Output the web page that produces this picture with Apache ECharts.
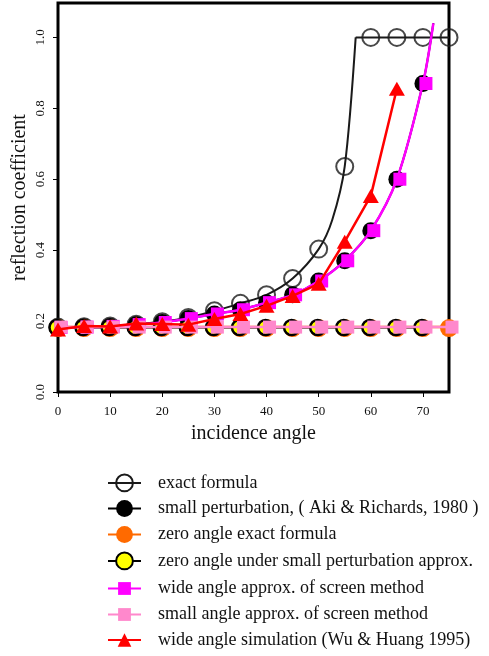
<!DOCTYPE html>
<html><head><meta charset="utf-8">
<script src="https://cdn.jsdelivr.net/npm/echarts@6/dist/echarts.min.js"></script>
<style>html,body{margin:0;padding:0;background:#fff}#c{width:489px;height:656px}</style>
</head><body><div id="c"></div>
<script>
// ---- data ----
const angles = [0,5,10,15,20,25,30,35,40,45,50,55,60,65,70,75];
const exactVals = [0.183,0.184,0.186,0.191,0.198,0.210,0.229,0.250,0.274,0.320,0.403,0.636,1.0,1.0,1.0,1.0];
// points, rising part and flat part (total reflection)
const exactRiseX = [0,5,10,15,20,25,30,35,40,45,50,52.6,55,57.1];
const exactRiseY = [0.183,0.184,0.186,0.191,0.198,0.210,0.229,0.250,0.274,0.320,0.403,0.485,0.636,1.0];
const exactFlatX = [57.1,60,65,70,75];
const exactFlatY = [1.0,1.0,1.0,1.0,1.0];
const smallPertVals = [0.182,0.183,0.185,0.190,0.196,0.207,0.220,0.232,0.252,0.274,0.313,0.370,0.455,0.600,0.870];
const curveEndX = 72, curveEndY = 1.04; // where the small-perturbation / screen curves leave the plot
const zeroExactVals = [0.183,0.183,0.183,0.183,0.183,0.183,0.183,0.183,0.183,0.183,0.183,0.183,0.183,0.183,0.183,0.183];
const zeroSmallVals = [0.182,0.182,0.182,0.182,0.182,0.182,0.182,0.182,0.182,0.182,0.182,0.182,0.182,0.182,0.182];
const wideScreenVals = [0.182,0.183,0.185,0.190,0.196,0.207,0.220,0.232,0.252,0.274,0.313,0.370,0.455,0.600,0.870];
const smallScreenVals = [0.183,0.183,0.183,0.183,0.183,0.183,0.183,0.183,0.183,0.183,0.183,0.183,0.183,0.183,0.183,0.183];
const wideSimVals = [0.176,0.186,0.185,0.193,0.192,0.190,0.206,0.220,0.243,0.271,0.305,0.424,0.553,0.855];
const xTicks = [0,10,20,30,40,50,60,70];
const yTicks = [0,0.2,0.4,0.6,0.8,1.0];
const names = [
  'exact formula',
  'small perturbation, ( Aki & Richards, 1980 )',
  'zero angle exact formula',
  'zero angle under small perturbation approx.',
  'wide angle approx. of screen method',
  'small angle approx. of screen method',
  'wide angle simulation (Wu & Huang 1995)'
];

const FONT = 'Liberation Serif';
const pair = (xs, ys) => ys.map((y, i) => [xs[i], y]);
const withEnd = (vals) => pair(angles, vals).concat([{value:[curveEndX, curveEndY], symbol:'none'}]);
// rising part and flat part as two segments of one line (null breaks the smoothing)
const exactCurveData = pair(exactRiseX, exactRiseY).concat([null], pair(exactFlatX, exactFlatY));

const series = [
  { name: names[0], type: 'line', data: exactCurveData, showSymbol: false, connectNulls: false,
    symbol: 'circle', symbolSize: 17, smooth: 0.3,
    itemStyle: {color: 'rgba(0,0,0,0)', borderColor: '#1a1a1a', borderWidth: 2},
    lineStyle: {color: '#1a1a1a', width: 2}, z: 2 },
  { name: names[0], type: 'scatter', data: pair(angles, exactVals), symbol: 'circle', symbolSize: 17,
    itemStyle: {color: 'rgba(0,0,0,0)', borderColor: '#1a1a1a', borderWidth: 2}, z: 2 },
  { name: names[1], type: 'line', data: withEnd(smallPertVals), symbol: 'circle', symbolSize: 17,
    smooth: 0.3, showAllSymbol: true,
    itemStyle: {color: '#000'}, lineStyle: {color: '#000', width: 2}, z: 3 },
  { name: names[2], type: 'line', data: pair(angles, zeroExactVals), symbol: 'circle', symbolSize: 18,
    symbolOffset: [0, 1], showAllSymbol: true,
    itemStyle: {color: '#ff6a00'}, lineStyle: {color: '#ff6a00', width: 2.5}, z: 4 },
  { name: names[3], type: 'line', data: pair(angles, zeroSmallVals), symbol: 'circle', symbolSize: 15,
    symbolOffset: [-1, 0], showAllSymbol: true,
    itemStyle: {color: '#ffff00', borderColor: '#000', borderWidth: 2.5}, lineStyle: {color: '#000', width: 2}, z: 5 },
  { name: names[4], type: 'line', data: withEnd(wideScreenVals), symbol: 'rect', symbolSize: 13,
    symbolOffset: [3, 0], smooth: 0.3, showAllSymbol: true,
    itemStyle: {color: '#ff00ff'}, lineStyle: {color: '#ff00ff', width: 2.5}, z: 6 },
  { name: names[5], type: 'line', data: pair(angles, smallScreenVals), symbol: 'rect', symbolSize: 13,
    symbolOffset: [3, 0], showAllSymbol: true,
    itemStyle: {color: '#ff88cc'}, lineStyle: {color: '#ff88cc', width: 2.5}, z: 7 },
  { name: names[6], type: 'line', data: pair(angles, wideSimVals), symbol: 'triangle', symbolSize: [16, 14],
    showAllSymbol: true,
    itemStyle: {color: '#ff0000'}, lineStyle: {color: '#ff0000', width: 2.5}, z: 8 }
];
series.forEach(s => { s.animation = false; s.emphasis = {disabled: true}; s.clip = false; });

const rowCenters = [484, 510, 536, 562, 587.5, 613.5, 639.5];
const legendH = [21, 21, 21, 21, 16, 16, 17];
const legends = names.map((n, i) => ({
  data: [n], orient: 'vertical', left: 107, top: rowCenters[i] - legendH[i] / 2,
  itemWidth: 33, itemHeight: legendH[i], selectedMode: false, padding: 0,
  textStyle: {fontFamily: FONT, fontSize: 18, color: '#111', padding: [0, 0, 0, 12]}
}));

const chart = echarts.init(document.getElementById('c'), null, {renderer: 'canvas'});
chart.setOption({
  animation: false,
  backgroundColor: '#fff',
  grid: {left: 58, top: 3, right: 40, bottom: 264, show: true, borderColor: '#000', borderWidth: 3, backgroundColor: 'transparent'},
  legend: legends,
  xAxis: {
    type: 'value', min: 0, max: 75,
    name: 'incidence angle', nameLocation: 'middle', nameGap: 32, nameMoveOverlap: false,
    nameTextStyle: {fontFamily: FONT, fontSize: 20, color: '#111'},
    axisLine: {show: false},
    axisTick: {show: true, length: 5, lineStyle: {color: '#000', width: 1}, customValues: xTicks},
    axisLabel: {fontFamily: FONT, fontSize: 13, color: '#111', margin: 13, customValues: xTicks},
    splitLine: {show: false}
  },
  yAxis: {
    type: 'value', min: 0, max: 1.097,
    name: 'reflection coefficient', nameLocation: 'middle', nameGap: 28, nameRotate: 90, nameMoveOverlap: false,
    nameTextStyle: {fontFamily: FONT, fontSize: 20, color: '#111'},
    axisLine: {show: false},
    axisTick: {show: true, length: 5, lineStyle: {color: '#000', width: 1}, customValues: yTicks},
    axisLabel: {fontFamily: FONT, fontSize: 13, color: '#111', margin: 11, rotate: 90,
      customValues: yTicks, formatter: v => v.toFixed(1)},
    splitLine: {show: false}
  },
  series: series
});
</script>
</body></html>
